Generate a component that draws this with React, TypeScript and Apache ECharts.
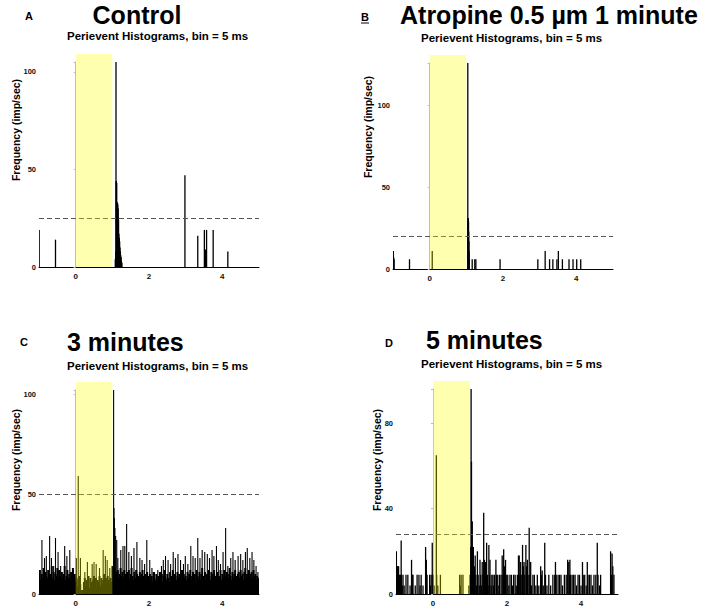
import React, { useEffect, useRef } from "react";
import * as echarts from "echarts";

// ---------- shared axis data ----------
const X_MIN = -1;
const X_MAX = 5;
const xTickLabels = [0, 2, 4];
const stimulus = [0, 1]; // yellow stimulus window (s)
const subtitle = "Perievent Histograms, bin = 5 ms";
const yName = "Frequency (imp/sec)";

// ---------- Panel A : Control ----------
const aLetter = "A";
const aTitle = "Control";
const aYMax = 105;
const aYTicks = [0, 50, 100];
const aThreshold = 25;
const aBins = [
  [-0.995, 19], [-0.55, 14],
  [1.08, 4], [1.09, 8], [1.1, 105], [1.105, 44], [1.11, 44], [1.12, 43], [1.13, 33],
  [1.14, 33], [1.15, 32], [1.16, 30], [1.17, 24], [1.18, 17], [1.19, 15], [1.2, 13],
  [1.21, 10], [1.22, 8], [1.23, 6], [1.24, 5], [1.25, 3], [1.26, 2],
  [2.98, 47], [3.33, 16], [3.51, 19], [3.54, 9], [3.57, 19], [3.75, 19], [4.15, 8],
];

// ---------- Panel B : Atropine 1 minute ----------
const bLetter = "B";
const bTitle = "Atropine 0.5 µm 1 minute";
const bYMax = 126;
const bYTicks = [0, 50, 100];
const bThreshold = 20;
const bBins = [
  [-0.99, 11], [-0.98, 7], [-0.97, 6], [-0.55, 6], [0.07, 11],
  [1.04, 126], [1.045, 31], [1.05, 31], [1.055, 31], [1.06, 29], [1.065, 23], [1.07, 17],
  [1.075, 11], [1.08, 6], [1.16, 6], [1.23, 6], [1.26, 6], [1.92, 6],
  [2.95, 6], [3.15, 11], [3.27, 6], [3.36, 6], [3.47, 6], [3.51, 11], [3.62, 6],
  [3.8, 6], [3.91, 6], [4.01, 6], [4.12, 6],
];

// ---------- Panel C : 3 minutes ----------
const cLetter = "C";
const cTitle = "3 minutes";
const cYMax = 102;
const cYTicks = [0, 50, 100];
const cThreshold = 50;
const cFloorStep = 0.025; // background bins read every 25 ms, starting at X_MIN
const cFloor = [
  9, 12, 7, 10, 8, 13, 6, 11, 9, 8, 12, 7, 10, 9, 14, 8, 11, 7, 10, 9,
  13, 8, 12, 6, 9, 11, 8, 10, 14, 7, 9, 12, 8, 10, 7, 11, 9, 13, 8, 10,
  6, 8, 4, 7, 9, 5, 0, 2, 0, 6, 8, 4, 7, 5, 9, 3, 8, 6, 4, 7,
  9, 5, 8, 3, 7, 6, 9, 4, 8, 5, 7, 10, 6, 8, 4, 9, 7, 5, 8, 6,
  14, 12, 13, 10, 11, 9, 12, 8, 10, 13, 9, 11, 8, 12, 10, 7, 11, 9, 12, 8,
  10, 13, 9, 7, 11, 8, 12, 10, 9, 7, 11, 8, 10, 12, 9, 7, 10, 8, 11, 9,
  8, 10, 7, 9, 6, 11, 8, 7, 10, 6, 9, 8, 11, 7, 10, 6, 9, 12, 8, 7,
  10, 8, 6, 11, 9, 7, 12, 8, 10, 9, 7, 11, 8, 10, 6, 9, 12, 7, 10, 8,
  9, 7, 11, 8, 10, 12, 7, 9, 11, 8, 10, 6, 12, 9, 8, 11, 7, 10, 13, 8,
  9, 11, 7, 10, 8, 12, 9, 7, 11, 10, 8, 12, 9, 7, 10, 11, 8, 9, 12, 7,
  10, 8, 12, 9, 7, 11, 10, 8, 13, 9, 7, 11, 8, 10, 12, 9, 7, 10, 11, 8,
  12, 9, 10, 7, 11, 13, 8, 10, 9, 12, 7, 10, 11, 8, 12, 9, 10, 7, 9, 8,
];
const cSpikes = [
  [-0.92, 27], [-0.85, 18], [-0.8, 19], [-0.71, 29], [-0.66, 18], [-0.6, 14], [-0.55, 28],
  [-0.48, 21], [-0.41, 14], [-0.3, 24], [-0.24, 19], [-0.16, 22], [-0.07, 12],
  [0.02, 18], [0.07, 59], [0.13, 18], [0.25, 11], [0.32, 16], [0.45, 15], [0.5, 16],
  [0.56, 15], [0.65, 13], [0.75, 22], [0.81, 19], [0.86, 17], [0.93, 13],
  [1.035, 102], [1.045, 43], [1.055, 38], [1.07, 33], [1.09, 29], [1.12, 27], [1.15, 18],
  [1.23, 22], [1.29, 24], [1.34, 24], [1.39, 35], [1.45, 21], [1.52, 19], [1.59, 23],
  [1.67, 26], [1.75, 18], [1.81, 17], [1.88, 15], [1.94, 27],
  [2.02, 17], [2.08, 13], [2.15, 11], [2.24, 12], [2.34, 14], [2.39, 17], [2.45, 19],
  [2.52, 17], [2.59, 15], [2.66, 21], [2.72, 18], [2.79, 20], [2.86, 17], [2.94, 15], [2.99, 19],
  [3.06, 15], [3.14, 24], [3.2, 19], [3.26, 18], [3.33, 28], [3.39, 18], [3.45, 22],
  [3.52, 21], [3.59, 20], [3.65, 18], [3.72, 22], [3.77, 19], [3.84, 24], [3.89, 17], [3.95, 15],
  [4.02, 21], [4.09, 33], [4.15, 14], [4.23, 18], [4.29, 21], [4.35, 17], [4.43, 19],
  [4.5, 20], [4.56, 17], [4.63, 21], [4.68, 23], [4.75, 18], [4.81, 21], [4.86, 17],
  [4.92, 14], [4.97, 11],
];

// ---------- Panel D : 5 minutes ----------
const dLetter = "D";
const dTitle = "5 minutes";
const dYMax = 96;
const dYTicks = [0, 40, 80];
const dThreshold = 28;
const dBins = [
  [-0.99, 20], [-0.98, 13], [-0.97, 13], [-0.96, 9], [-0.95, 13], [-0.94, 9], [-0.93, 13],
  [-0.92, 4], [-0.91, 9], [-0.9, 4], [-0.88, 9], [-0.86, 25], [-0.85, 9], [-0.83, 4],
  [-0.81, 9], [-0.78, 4], [-0.73, 9], [-0.68, 9], [-0.62, 4], [-0.58, 16], [-0.56, 9],
  [-0.54, 9], [-0.48, 4], [-0.43, 9], [-0.38, 9], [-0.35, 4], [-0.32, 9], [-0.27, 4],
  [-0.2, 22], [-0.18, 16], [-0.16, 9], [-0.09, 9], [-0.07, 4], [-0.05, 9], [-0.02, 24],
  [0.0, 9], [0.03, 4], [0.09, 65], [0.1, 9], [0.13, 4], [0.2, 9], [0.72, 9], [0.74, 4],
  [0.76, 9], [0.81, 9], [0.97, 4], [1.0, 9], [1.02, 22], [1.03, 97], [1.04, 62],
  [1.05, 34], [1.06, 34], [1.07, 22], [1.08, 13], [1.09, 22], [1.1, 9], [1.12, 13],
  [1.14, 18], [1.16, 9], [1.18, 4], [1.2, 20], [1.22, 9], [1.25, 4], [1.27, 16],
  [1.29, 9], [1.31, 4], [1.33, 15], [1.35, 9], [1.37, 38], [1.39, 16], [1.4, 9],
  [1.42, 15], [1.45, 24], [1.47, 9], [1.49, 4], [1.51, 23], [1.53, 9], [1.54, 16],
  [1.57, 4], [1.59, 9], [1.62, 9], [1.64, 4], [1.66, 9], [1.7, 16], [1.72, 9], [1.75, 9],
  [1.78, 4], [1.8, 9], [1.84, 9], [1.87, 18], [1.89, 9], [1.91, 21], [1.93, 13],
  [1.96, 16], [1.98, 9], [2.02, 9], [2.05, 4], [2.08, 9], [2.12, 9], [2.15, 4], [2.18, 9],
  [2.22, 9], [2.25, 4], [2.28, 9], [2.31, 18], [2.33, 18], [2.35, 9], [2.37, 15],
  [2.4, 9], [2.42, 23], [2.44, 13], [2.46, 15], [2.48, 9], [2.51, 23], [2.53, 13],
  [2.55, 16], [2.57, 9], [2.6, 31], [2.62, 9], [2.64, 15], [2.66, 4], [2.7, 9], [2.74, 9],
  [2.78, 4], [2.82, 9], [2.86, 4], [2.91, 13], [2.93, 9], [2.95, 11], [2.98, 4],
  [3.02, 24], [3.04, 9], [3.08, 4], [3.13, 9], [3.18, 4], [3.24, 9], [3.29, 9], [3.31, 15],
  [3.33, 9], [3.38, 9], [3.42, 9], [3.46, 9], [3.5, 4], [3.55, 9], [3.6, 9], [3.64, 16],
  [3.67, 15], [3.69, 9], [3.7, 16], [3.72, 9], [3.76, 9], [3.8, 9], [3.84, 9], [3.88, 4],
  [3.92, 9], [3.96, 9], [4.0, 4], [4.04, 15], [4.06, 9], [4.1, 9], [4.14, 4], [4.17, 15],
  [4.19, 9], [4.23, 9], [4.27, 9], [4.31, 4], [4.35, 9], [4.4, 9], [4.44, 24], [4.46, 9],
  [4.5, 4], [4.53, 9], [4.8, 20], [4.82, 9], [4.84, 19], [4.86, 13], [4.89, 9],
];

// ---------- layout (pixels) ----------
const FONT = '"Liberation Sans", Arial, Helvetica, sans-serif';
const grids = [
  { left: 39, top: 62, width: 220, height: 205 },
  { left: 393, top: 63, width: 220, height: 206 },
  { left: 39, top: 390, width: 220, height: 205 },
  { left: 396, top: 389, width: 222, height: 205 },
];

function barSeries(idx: number, data: number[][], w: number) {
  return {
    type: "custom",
    xAxisIndex: idx,
    yAxisIndex: idx,
    data,
    clip: true,
    z: 2,
    silent: true,
    renderItem: (params: any, api: any) => {
      const t = api.value(0);
      const h = api.value(1);
      const p0 = api.coord([t, 0]);
      const p1 = api.coord([t, h]);
      return {
        type: "rect",
        shape: { x: p0[0] - w / 2, y: p1[1], width: w, height: p0[1] - p1[1] },
        style: { fill: "#000" },
      };
    },
  };
}

function stimulusSeries(idx: number) {
  return {
    type: "custom",
    xAxisIndex: idx,
    yAxisIndex: idx,
    data: [[stimulus[0], 0, stimulus[1]]],
    clip: false,
    z: 5,
    silent: true,
    renderItem: (params: any, api: any) => {
      const cs = params.coordSys;
      const a = api.coord([api.value(0), 0]);
      const b = api.coord([api.value(2), 0]);
      const top = cs.y - 8;
      return {
        type: "rect",
        shape: { x: a[0], y: top, width: b[0] - a[0], height: a[1] - top },
        style: { fill: "rgba(255,255,0,0.31)" },
      };
    },
  };
}

function thresholdSeries(idx: number, value: number) {
  return {
    type: "custom",
    xAxisIndex: idx,
    yAxisIndex: idx,
    data: [[X_MIN, value]],
    clip: false,
    z: 3,
    silent: true,
    renderItem: (params: any, api: any) => {
      const cs = params.coordSys;
      const y = Math.round(api.coord([api.value(0), api.value(1)])[1]) + 0.5;
      return {
        type: "line",
        shape: { x1: cs.x, y1: y, x2: cs.x + cs.width, y2: y },
        style: { stroke: "#555", lineWidth: 1, lineDash: [5, 3] },
      };
    },
  };
}

function text(str: string, x: number, y: number, size: number, opts: any = {}) {
  return {
    type: "text",
    x,
    y,
    rotation: opts.rotation || 0,
    style: {
      text: str,
      fontFamily: FONT,
      fontSize: size,
      fontWeight: opts.weight || "bold",
      fill: "#000",
      align: opts.align || "left",
      verticalAlign: "middle",
    },
  };
}

export default function App() {
  const ref = useRef<HTMLDivElement>(null);
  useEffect(() => {
    if (!ref.current) return;
    const chart = echarts.init(ref.current, null, { renderer: "svg" });

    const yMaxes = [aYMax, bYMax, cYMax, dYMax];
    const yTicks = [aYTicks, bYTicks, cYTicks, dYTicks];
    const thresholds = [aThreshold, bThreshold, cThreshold, dThreshold];
    const cFloorData = cFloor.map((v, i) => [X_MIN + i * cFloorStep, v]);

    const series: any[] = [];
    series.push(barSeries(0, aBins, 1.3));
    series.push(barSeries(1, bBins, 1.3));
    series.push(barSeries(2, cFloorData, 2));
    series.push(barSeries(2, cSpikes, 1.1));
    series.push(barSeries(3, dBins, 1.3));
    for (let i = 0; i < 4; i++) {
      series.push(thresholdSeries(i, thresholds[i]));
      series.push(stimulusSeries(i));
    }

    const option: any = {
      animation: false,
      backgroundColor: "#fff",
      grid: grids.map((g) => ({ ...g, containLabel: false })),
      xAxis: grids.map((_, i) => ({
        type: "value",
        gridIndex: i,
        min: X_MIN,
        max: X_MAX,
        interval: 1,
        splitLine: { show: false },
        axisTick: { show: false },
        axisLine: { show: true, onZero: false, lineStyle: { color: "#000", width: 1 } },
        axisLabel: {
          margin: 5,
          fontFamily: FONT,
          fontSize: 8,
          fontWeight: "bold",
          color: "#111",
          formatter: (v: number) => (xTickLabels.includes(v) ? String(v) : ""),
        },
      })),
      yAxis: grids.map((_, i) => ({
        type: "value",
        gridIndex: i,
        min: 0,
        max: yMaxes[i],
        interval: yTicks[i][1],
        splitLine: { show: false },
        axisLine: { show: true, lineStyle: { color: "#bbb", width: 1 } },
        axisTick: { show: true, length: 2, lineStyle: { color: "#bbb" } },
        axisLabel: {
          margin: 3,
          fontFamily: FONT,
          fontSize: 7.5,
          fontWeight: "bold",
          color: "#111",
          formatter: (v: number) => (yTicks[i].includes(v) ? String(v) : ""),
        },
      })),
      series,
      graphic: [
        text(aLetter, 25, 16, 11),
        text(aTitle, 137, 15, 25, { align: "center" }),
        text(subtitle, 67, 36, 11.5),
        text(bLetter, 365, 17, 11, { align: "center" }),
        { type: "line", shape: { x1: 361, y1: 23, x2: 369, y2: 23 }, style: { stroke: "#000", lineWidth: 1 } },
        text(bTitle, 400, 15, 25),
        text(subtitle, 421, 38, 11.5),
        text(cLetter, 24, 342, 11, { align: "center" }),
        text(cTitle, 67, 342, 25),
        text(subtitle, 67, 366, 11.5),
        text(dLetter, 389, 343, 11, { align: "center" }),
        text(dTitle, 426, 340, 25),
        text(subtitle, 421, 364, 11.5),
        text(yName, 15.5, 130, 10.5, { rotation: Math.PI / 2, align: "center" }),
        text(yName, 368, 127, 10.5, { rotation: Math.PI / 2, align: "center" }),
        text(yName, 16, 460, 10.5, { rotation: Math.PI / 2, align: "center" }),
        text(yName, 377, 460, 10.5, { rotation: Math.PI / 2, align: "center" }),
      ],
    };
    chart.setOption(option);
    return () => chart.dispose();
  }, []);

  return (
    <div
      ref={ref}
      style={{ position: "fixed", left: 0, top: 0, width: 708, height: 607, background: "#fff" }}
    />
  );
}
